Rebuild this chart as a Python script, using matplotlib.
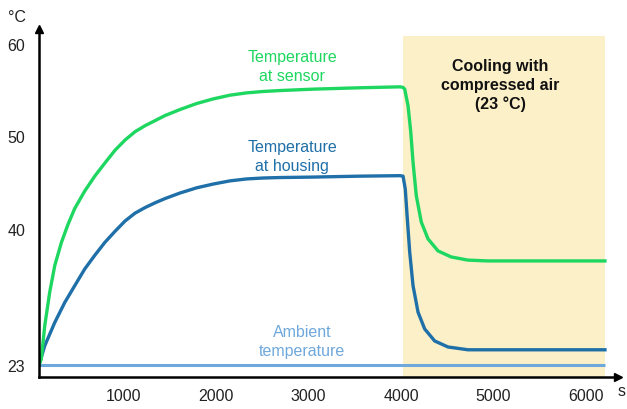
import numpy as np
import matplotlib.pyplot as plt

# time in s, temperatures in °C
t_sensor = [86, 111, 148, 202, 256, 328, 400, 472, 581, 689, 797, 908, 1016, 1124, 1232,
            1341, 1449, 1611, 1791, 1971, 2151, 2332, 2511, 2692, 3049, 3557, 3989,
            4020, 4040, 4076, 4105, 4130, 4165, 4219, 4292, 4400, 4541, 4724, 4941, 6205]
T_sensor = [23.0, 23.75, 27.9, 32.1, 35.4, 38.3, 40.5, 42.2, 44.1, 45.7, 47.1, 48.5, 49.6, 50.5, 51.15,
            51.7, 52.25, 52.9, 53.55, 54.05, 54.45, 54.7, 54.85, 54.95, 55.1, 55.25, 55.35,
            55.3, 55.1, 53.3, 50.5, 47.2, 43.6, 40.75, 38.75, 37.25, 36.5, 36.1, 36.0, 36.0]

t_housing = [86, 148, 256, 364, 472, 581, 689, 797, 908, 1016, 1124, 1232, 1341, 1449, 1611,
             1791, 1971, 2151, 2332, 2511, 2692, 3049, 3557, 3989, 4022, 4046, 4068,
             4094, 4130, 4184, 4256, 4364, 4508, 4724, 4941, 6205]
T_housing = [23.0, 25.4, 28.3, 30.8, 32.9, 35.0, 36.7, 38.3, 39.7, 40.85, 41.7, 42.3, 42.82, 43.28, 43.88,
             44.44, 44.85, 45.19, 45.4, 45.5, 45.55, 45.6, 45.7, 45.75, 45.7, 44.3, 41.1,
             37.1, 32.9, 29.6, 27.5, 26.0, 25.25, 24.9, 24.9, 24.9]

t_ambient = [86, 6205]
T_ambient = [23.0, 23.0]

cooling_start = 4020
cooling_end = 6205

x_ticks = [1000, 2000, 3000, 4000, 5000, 6000]
y_ticks = [23, 40, 50, 60]

green = '#1ed760'
blue = '#1f6fa8'
light_blue = '#6fa8dc'
shade = '#fbf0c8'

# the axis is squeezed below 40 °C
k = 0.865


def fwd(y):
    y = np.asarray(y, dtype=float)
    return np.where(y >= 40, y, 40 - (40 - y) * k)


def inv(d):
    d = np.asarray(d, dtype=float)
    return np.where(d >= 40, d, 40 - (40 - d) / k)


def main():
    plt.rcParams['font.family'] = ['Liberation Sans', 'DejaVu Sans']
    fs = 11.5

    fig = plt.figure(figsize=(6.27, 4.10), dpi=100)
    ax = fig.add_axes([39 / 627, 1 - 378 / 410, (618 - 39) / 627, (378 - 30) / 410])
    ax.set_yscale('function', functions=(fwd, inv))
    ax.set_xlim(86, 6346)
    ax.set_ylim(21.5, 61.6)

    ax.fill_between([cooling_start, cooling_end], 21.5, 60.8, color=shade, zorder=0, lw=0)

    ax.plot(t_ambient, T_ambient, color=light_blue, lw=2.2, solid_capstyle='butt')
    ax.plot(t_housing, T_housing, color=blue, lw=2.4, solid_joinstyle='round')
    ax.plot(t_sensor, T_sensor, color=green, lw=2.4, solid_joinstyle='round')

    for s in ['top', 'right']:
        ax.spines[s].set_visible(False)
    for s in ['left', 'bottom']:
        ax.spines[s].set_linewidth(1.8)
    ax.plot(1, 0, '>k', ms=6, transform=ax.transAxes, clip_on=False)
    ax.plot(0, 1, '^k', ms=6, transform=ax.transAxes, clip_on=False)

    ax.set_xticks(x_ticks)
    ax.set_xticklabels([str(v) for v in x_ticks])
    ax.set_yticks(y_ticks)
    ax.set_yticklabels([str(v) for v in y_ticks])
    ax.yaxis.set_minor_locator(plt.NullLocator())
    ax.tick_params(axis='both', length=0, labelsize=fs, colors='#222222')
    ax.tick_params(axis='x', pad=8)
    ax.tick_params(axis='y', pad=10)

    fig.text(17 / 627, 1 - 17 / 410, '°C', fontsize=fs, ha='center', va='center', color='#222222')
    fig.text(622 / 627, 1 - 392 / 410, 's', fontsize=fs, ha='center', va='center', color='#222222')

    ax.text(2822, 57.6, 'Temperature\nat sensor', color=green, fontsize=fs,
            ha='center', va='center', linespacing=1.3)
    ax.text(2822, 47.9, 'Temperature\nat housing', color=blue, fontsize=fs,
            ha='center', va='center', linespacing=1.3)
    ax.text(2930, 26.0, 'Ambient\ntemperature', color=light_blue, fontsize=fs,
            ha='center', va='center', linespacing=1.3)
    ax.text(5070, 55.6, 'Cooling with\ncompressed air\n(23 °C)', color='#111111', fontsize=fs,
            fontweight='bold', ha='center', va='center', linespacing=1.3)

    fig.savefig('out.png', dpi=100)


if __name__ == "__main__":
    main()
